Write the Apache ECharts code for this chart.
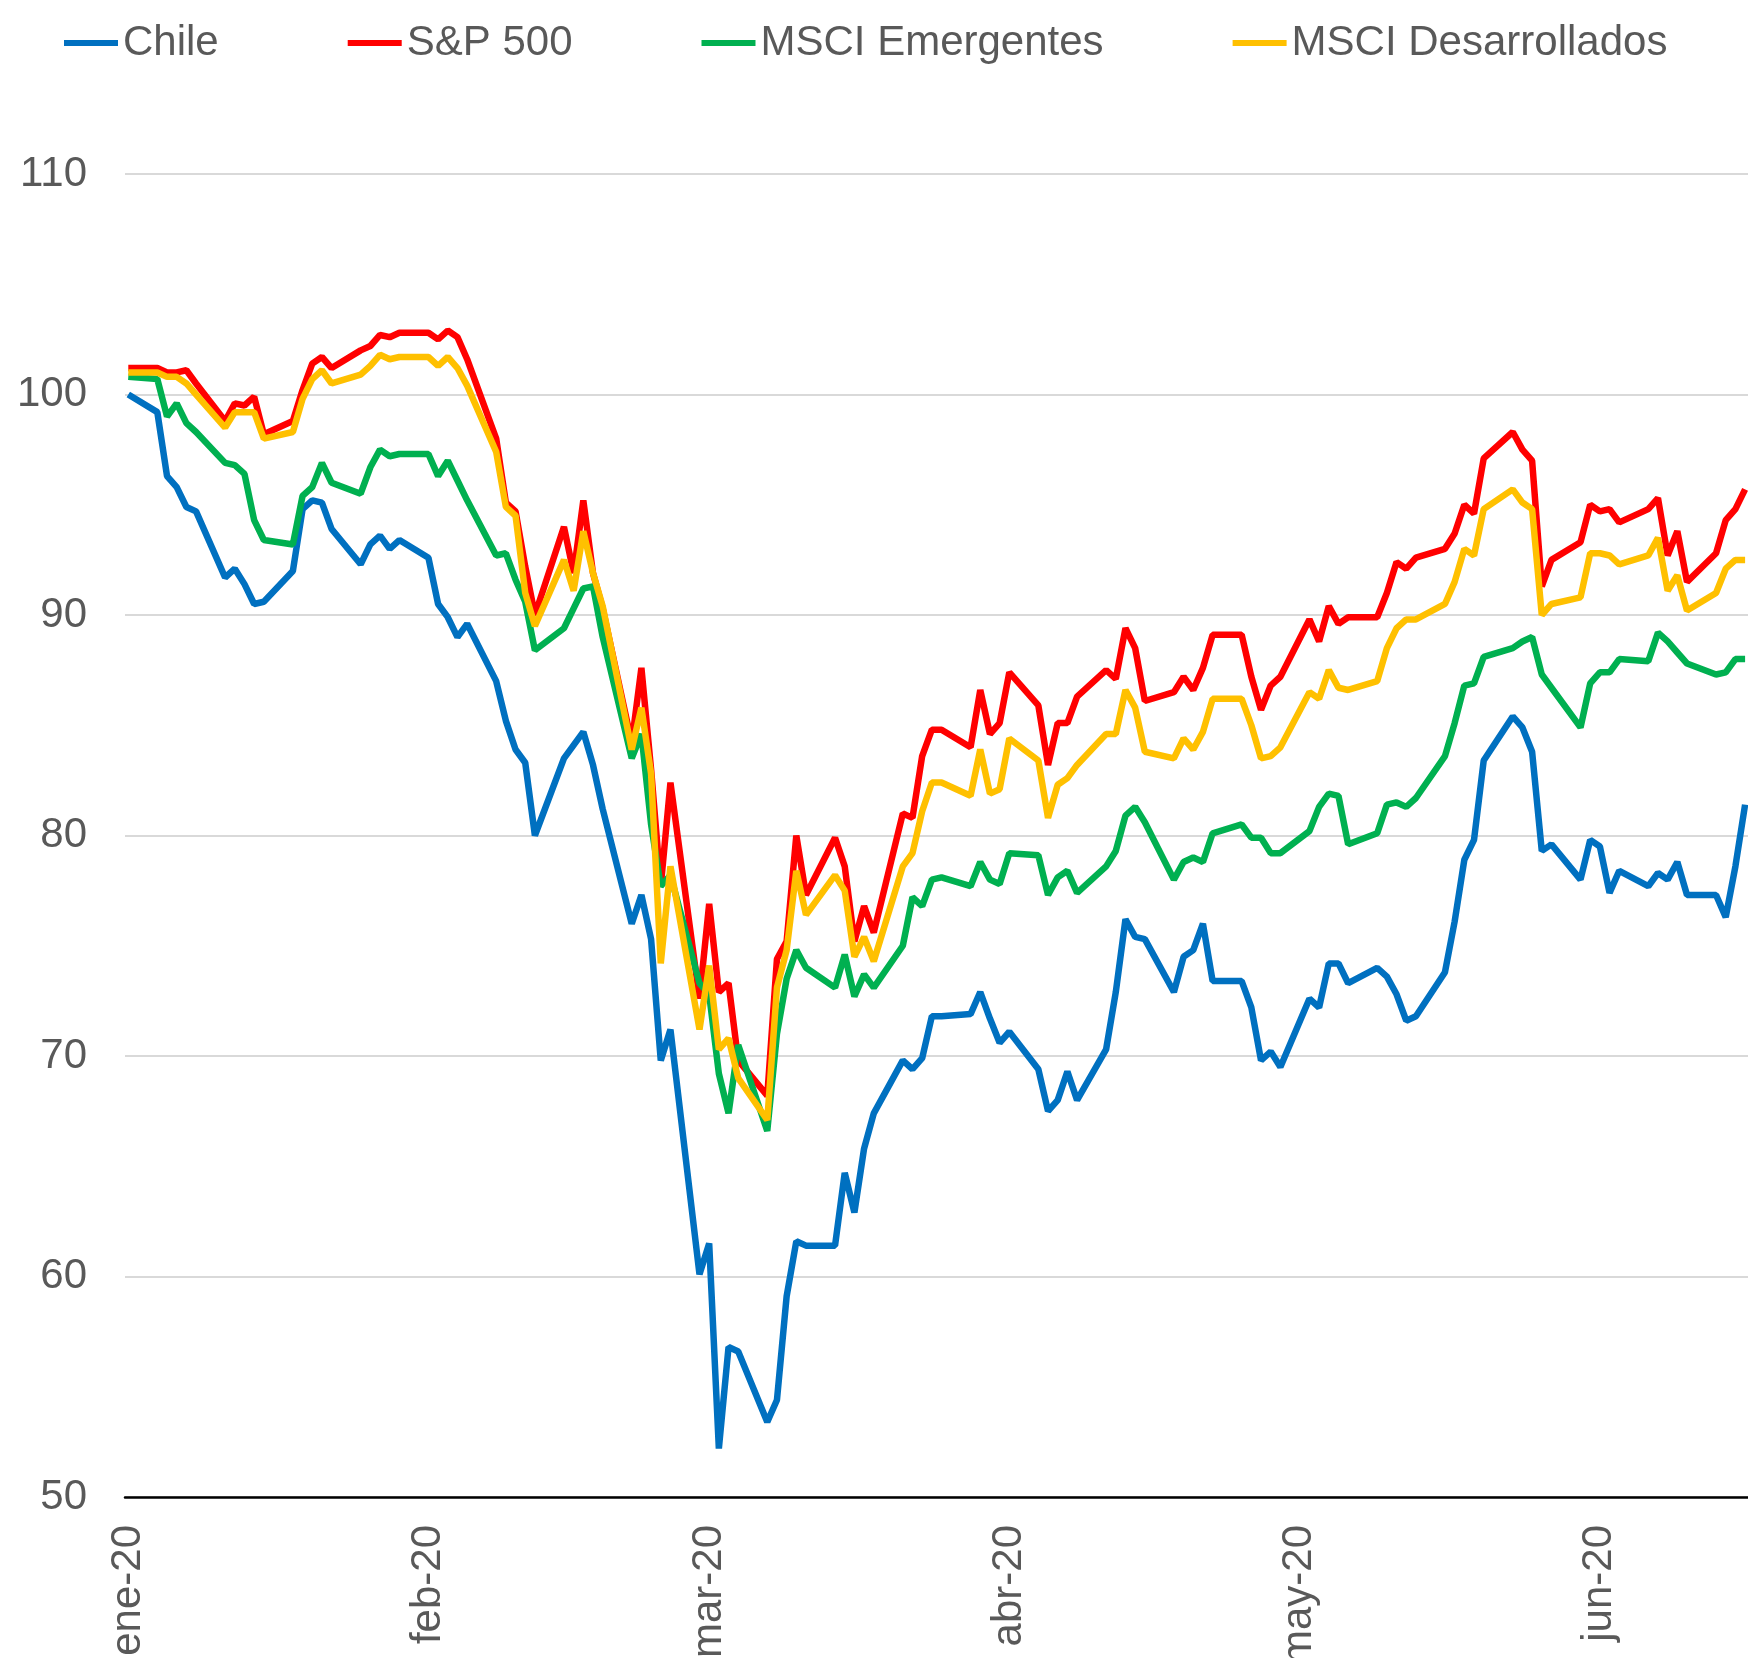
<!DOCTYPE html>
<html>
<head>
<meta charset="utf-8">
<script src="https://cdn.jsdelivr.net/npm/echarts@6/dist/echarts.min.js"></script>
<style>
html, body { margin: 0; padding: 0; background: #fff; }
#main { width: 1748px; height: 1658px; }
</style>
</head>
<body>
<div id="main"></div>
<script>
// dias habiles (base 100 = 3 ene 2020)
var dates = [
    '2020-01-03', '2020-01-06', '2020-01-07', '2020-01-08', '2020-01-09', '2020-01-10',
    '2020-01-13', '2020-01-14', '2020-01-15', '2020-01-16', '2020-01-17',
    '2020-01-20', '2020-01-21', '2020-01-22', '2020-01-23', '2020-01-24',
    '2020-01-27', '2020-01-28', '2020-01-29', '2020-01-30', '2020-01-31',
    '2020-02-03', '2020-02-04', '2020-02-05', '2020-02-06', '2020-02-07',
    '2020-02-10', '2020-02-11', '2020-02-12', '2020-02-13', '2020-02-14',
    '2020-02-17', '2020-02-18', '2020-02-19', '2020-02-20', '2020-02-21',
    '2020-02-24', '2020-02-25', '2020-02-26', '2020-02-27', '2020-02-28',
    '2020-03-02', '2020-03-03', '2020-03-04', '2020-03-05', '2020-03-06',
    '2020-03-09', '2020-03-10', '2020-03-11', '2020-03-12', '2020-03-13',
    '2020-03-16', '2020-03-17', '2020-03-18', '2020-03-19', '2020-03-20',
    '2020-03-23', '2020-03-24', '2020-03-25', '2020-03-26', '2020-03-27',
    '2020-03-30', '2020-03-31',
    '2020-04-01', '2020-04-02', '2020-04-03',
    '2020-04-06', '2020-04-07', '2020-04-08', '2020-04-09', '2020-04-10',
    '2020-04-13', '2020-04-14', '2020-04-15', '2020-04-16', '2020-04-17',
    '2020-04-20', '2020-04-21', '2020-04-22', '2020-04-23', '2020-04-24',
    '2020-04-27', '2020-04-28', '2020-04-29', '2020-04-30',
    '2020-05-01',
    '2020-05-04', '2020-05-05', '2020-05-06', '2020-05-07', '2020-05-08',
    '2020-05-11', '2020-05-12', '2020-05-13', '2020-05-14', '2020-05-15',
    '2020-05-18', '2020-05-19', '2020-05-20', '2020-05-21', '2020-05-22',
    '2020-05-25', '2020-05-26', '2020-05-27', '2020-05-28', '2020-05-29',
    '2020-06-01', '2020-06-02', '2020-06-03', '2020-06-04', '2020-06-05',
    '2020-06-08', '2020-06-09', '2020-06-10', '2020-06-11', '2020-06-12',
    '2020-06-15', '2020-06-16', '2020-06-17', '2020-06-18'
];

var chile = [
    100.0, 99.2, 96.3, 95.8, 94.9, 94.7, 91.7, 92.1, 91.4, 90.5, 90.6,
    92.0, 94.8, 95.2, 95.1, 93.9, 92.3, 93.2, 93.6, 93.0, 93.4,
    92.6, 90.5, 89.9, 89.0, 89.6, 87.0, 85.2, 83.9, 83.3, 80.0,
    83.5, 84.1, 84.7, 83.2, 81.2, 76.0, 77.3, 75.3, 69.8, 71.2,
    60.1, 61.5, 52.2, 56.8, 56.6, 53.4, 54.4, 59.1, 61.6, 61.4,
    61.4, 64.7, 62.9, 65.8, 67.4, 69.8, 69.4, 69.9, 71.8, 71.8, 71.9, 72.9,
    71.7, 70.6, 71.1, 69.4, 67.5, 68.0, 69.3, 68.0, 70.3, 72.9, 76.2, 75.4, 75.3,
    72.9, 74.5, 74.8, 76.0, 73.4, 73.4, 72.2, 69.8, 70.2,
    69.5, 72.6, 72.2, 74.2, 74.2, 73.3, 74.0, 73.6, 72.8, 71.6, 71.8,
    73.8, 76.1, 78.9, 79.8, 83.4, 85.4, 84.9, 83.8, 79.3, 79.6,
    78.0, 79.8, 79.5, 77.4, 78.4, 77.7, 78.3, 78.0, 78.8, 77.3,
    77.3, 76.3, 78.6, 81.4
];

var sp500 = [
    101.2, 101.2, 101.0, 101.0, 101.1, 100.5, 98.8, 99.6, 99.5, 99.9, 98.2,
    98.8, 100.2, 101.4, 101.7, 101.2, 102.0, 102.2, 102.7, 102.6, 102.8,
    102.8, 102.5, 102.9, 102.6, 101.6, 98.0, 95.1, 94.7, 92.2, 90.0,
    94.0, 91.9, 95.2, 91.9, 90.3, 84.2, 87.6, 83.0, 77.7, 82.4,
    72.6, 76.9, 72.9, 73.3, 69.8, 68.2, 74.4, 75.2, 80.0, 77.3,
    79.9, 78.6, 75.2, 76.8, 75.6, 81.0, 80.8, 83.6, 84.8, 84.8, 84.0, 86.6,
    84.6, 85.1, 87.4, 85.9, 83.2, 85.1, 85.1, 86.3, 87.5, 87.1, 89.4, 88.5, 86.1,
    86.5, 87.2, 86.6, 87.6, 89.1, 89.1, 87.2, 85.7, 86.8,
    87.2, 89.8, 88.8, 90.4, 89.6, 89.9, 89.9, 91.0, 92.4, 92.1, 92.6,
    93.0, 93.7, 95.0, 94.6, 97.1, 98.3, 97.5, 97.0, 91.3, 92.5,
    93.3, 95.0, 94.7, 94.8, 94.2, 94.8, 95.3, 92.7, 93.8, 91.5,
    92.8, 94.3, 94.8, 95.7
];

var emergentes = [
    100.8, 100.7, 99.0, 99.6, 98.7, 98.3, 96.9, 96.8, 96.4, 94.3, 93.4,
    93.2, 95.4, 95.8, 96.9, 96.0, 95.5, 96.7, 97.5, 97.2, 97.3,
    97.3, 96.3, 97.0, 96.1, 95.2, 92.7, 92.8, 91.6, 90.6, 88.4,
    89.4, 90.3, 91.2, 91.3, 89.0, 83.5, 84.6, 80.5, 77.7, 78.2,
    73.3, 72.8, 69.2, 67.4, 70.5, 66.6, 71.0, 73.5, 74.8, 74.0,
    73.1, 74.6, 72.7, 73.7, 73.1, 75.0, 77.2, 76.8, 78.0, 78.1, 77.7, 78.8,
    78.0, 77.8, 79.2, 79.1, 77.3, 78.1, 78.4, 77.4, 78.6, 79.3, 80.9, 81.3, 80.6,
    78.0, 78.8, 79.0, 78.8, 80.1, 80.5, 79.9, 79.9, 79.2,
    79.2, 80.2, 81.3, 81.9, 81.8, 79.6, 80.1, 81.4, 81.5, 81.3, 81.7,
    83.6, 85.1, 86.8, 86.9, 88.1, 88.5, 88.8, 89.0, 87.3, 86.7,
    84.9, 86.9, 87.4, 87.4, 88.0, 87.9, 89.2, 88.8, 88.3, 87.8,
    87.3, 87.4, 88.0, 88.0
];

var desarrollados = [
    101.0, 101.0, 100.8, 100.8, 100.5, 100.0, 98.5, 99.2, 99.2, 99.2, 98.0,
    98.3, 99.8, 100.7, 101.1, 100.5, 100.9, 101.3, 101.8, 101.6, 101.7,
    101.7, 101.3, 101.7, 101.2, 100.4, 97.4, 94.9, 94.5, 91.0, 89.5,
    92.5, 91.1, 93.8, 91.9, 90.4, 83.9, 85.8, 82.8, 74.2, 78.6,
    71.2, 74.1, 70.3, 70.8, 69.0, 67.1, 73.1, 74.8, 78.4, 76.4,
    78.2, 77.5, 74.5, 75.4, 74.3, 78.6, 79.2, 81.1, 82.4, 82.4, 81.8, 83.9,
    81.9, 82.1, 84.4, 83.4, 80.8, 82.3, 82.6, 83.2, 84.6, 84.6, 86.6, 85.8, 83.8,
    83.5, 84.4, 83.9, 84.7, 86.2, 86.2, 85.0, 83.5, 83.6,
    84.0, 86.5, 86.2, 87.5, 86.7, 86.6, 87.0, 88.5, 89.4, 89.8, 89.8,
    90.5, 91.5, 93.0, 92.7, 94.8, 95.7, 95.1, 94.8, 90.0, 90.5,
    90.8, 92.8, 92.8, 92.7, 92.3, 92.7, 93.5, 91.1, 91.8, 90.2,
    91.0, 92.1, 92.5, 92.5
];

var seriesNames = ['Chile', 'S&P 500', 'MSCI Emergentes', 'MSCI Desarrollados'];
var seriesColors = ['#0070C0', '#FF0000', '#00B050', '#FFC000'];
var monthLabels = ['ene', 'feb', 'mar', 'abr', 'may', 'jun'];
var labelDates = ['2020-01-03', '2020-02-03', '2020-03-03', '2020-04-03', '2020-05-03', '2020-06-03'];

function toTime(s) {
    var p = s.split('-');
    return Date.UTC(+p[0], +p[1] - 1, +p[2]);
}

var DAY = 86400000;
var myChart = echarts.init(document.getElementById('main'));

function pairs(values) {
    return dates.map(function (d, i) { return [toTime(d), values[i]]; });
}

var allValues = [chile, sp500, emergentes, desarrollados];
var series = seriesNames.map(function (name, i) {
    return {
        name: name,
        type: 'line',
        symbol: 'none',
        showSymbol: false,
        data: pairs(allValues[i]),
        color: seriesColors[i],
        lineStyle: { width: 6.5, color: seriesColors[i] }
    };
});

var option = {
    animation: false,
    backgroundColor: '#fff',
    textStyle: { fontFamily: 'Liberation Sans, Arial, sans-serif' },
    legend: {
        data: seriesNames,
        left: 64,
        top: 20,
        padding: 0,
        icon: 'rect',
        itemWidth: 54,
        itemHeight: 6,
        itemGap: 129,
        textStyle: { fontSize: 42, color: '#595959', lineHeight: 46 }
    },
    grid: {
        left: 125,
        right: 0,
        top: 174,
        bottom: 161,
        // las etiquetas de abajo se cortan en el original
        outerBoundsMode: 'none'
    },
    xAxis: {
        // fechas como numeros (ms), etiquetas en el dia 3 de cada mes
        type: 'value',
        min: toTime('2020-01-03') - 0.34 * DAY,
        max: toTime('2020-06-18') + 0.3 * DAY,
        axisLine: { show: true, lineStyle: { color: '#000', width: 2.5 } },
        axisTick: { show: false },
        splitLine: { show: false },
        axisLabel: {
            rotate: 90,
            margin: 28,
            fontSize: 42,
            color: '#595959',
            customValues: labelDates.map(toTime),
            formatter: function (v) {
                var d = new Date(v);
                return monthLabels[d.getUTCMonth()] + '-20';
            }
        }
    },
    yAxis: {
        type: 'value',
        min: 50,
        max: 110,
        interval: 10,
        axisLine: { show: false },
        axisTick: { show: false },
        axisLabel: { fontSize: 42, color: '#595959', margin: 38 },
        splitLine: { lineStyle: { color: '#d9d9d9', width: 2 } }
    },
    series: series
};

myChart.setOption(option);
</script>
</body>
</html>
